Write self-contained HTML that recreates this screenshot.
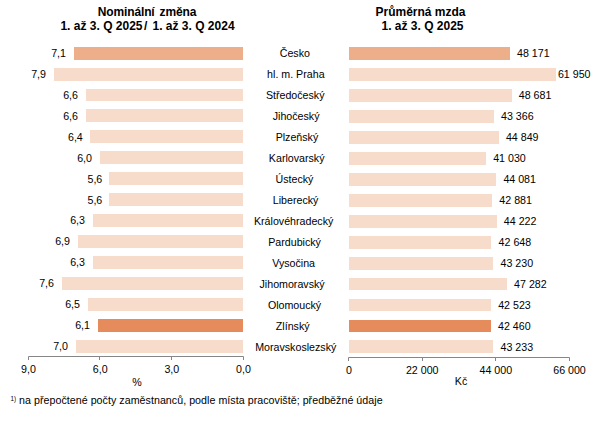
<!DOCTYPE html>
<html><head><meta charset="utf-8"><style>
html,body{margin:0;padding:0;background:#fff;width:594px;height:428px;overflow:hidden}
svg{display:block}
text{font-family:"Liberation Sans",sans-serif;font-size:10.67px;fill:#000}
text.b{font-weight:bold;font-size:12px}
</style></head><body>
<svg width="594" height="428" viewBox="0 0 594 428">
<rect x="74" y="47" width="169" height="13" fill="#EDAE8A"/>
<rect x="349" y="47" width="161" height="13" fill="#EDAE8A"/>
<text x="66.00" y="57" text-anchor="end">7,1</text>
<text x="294.80" y="57" text-anchor="middle">Česko</text>
<text x="517.04" y="57">48 171</text>
<rect x="54" y="68" width="189" height="13" fill="#F7DCCB"/>
<rect x="349" y="68" width="207" height="13" fill="#F7DCCB"/>
<text x="46.00" y="78" text-anchor="end">7,9</text>
<text x="295.85" y="78" text-anchor="middle">hl. m. Praha</text>
<text x="590.5" y="78" text-anchor="end">61 950</text>
<rect x="86" y="89" width="157" height="12" fill="#F7DCCB"/>
<rect x="349" y="89" width="163" height="13" fill="#F7DCCB"/>
<text x="78.00" y="99" text-anchor="end">6,6</text>
<text x="295.20" y="99" text-anchor="middle">Středočeský</text>
<text x="518.74" y="99">48 681</text>
<rect x="86" y="109" width="157" height="13" fill="#F7DCCB"/>
<rect x="349" y="110" width="145" height="13" fill="#F7DCCB"/>
<text x="78.00" y="120" text-anchor="end">6,6</text>
<text x="296.10" y="120" text-anchor="middle">Jihočeský</text>
<text x="500.99" y="120">43 366</text>
<rect x="90" y="130" width="153" height="13" fill="#F7DCCB"/>
<rect x="349" y="131" width="150" height="13" fill="#F7DCCB"/>
<text x="82.80" y="141" text-anchor="end">6,4</text>
<text x="296.95" y="141" text-anchor="middle">Plzeňský</text>
<text x="505.95" y="141">44 849</text>
<rect x="100" y="151" width="143" height="13" fill="#F7DCCB"/>
<rect x="349" y="152" width="137" height="13" fill="#F7DCCB"/>
<text x="92.00" y="162" text-anchor="end">6,0</text>
<text x="296.70" y="162" text-anchor="middle">Karlovarský</text>
<text x="493.19" y="162">41 030</text>
<rect x="109" y="172" width="134" height="13" fill="#F7DCCB"/>
<rect x="349" y="173" width="147" height="13" fill="#F7DCCB"/>
<text x="102.30" y="183" text-anchor="end">5,6</text>
<text x="294.50" y="183" text-anchor="middle">Ústecký</text>
<text x="503.38" y="183">44 081</text>
<rect x="109" y="193" width="134" height="13" fill="#F7DCCB"/>
<rect x="349" y="194" width="143" height="13" fill="#F7DCCB"/>
<text x="102.30" y="204" text-anchor="end">5,6</text>
<text x="295.60" y="204" text-anchor="middle">Liberecký</text>
<text x="499.37" y="204">42 881</text>
<rect x="93" y="214" width="150" height="13" fill="#F7DCCB"/>
<rect x="349" y="215" width="148" height="13" fill="#F7DCCB"/>
<text x="85.00" y="224" text-anchor="end">6,3</text>
<text x="293.65" y="225" text-anchor="middle">Královéhradecký</text>
<text x="503.85" y="225">44 222</text>
<rect x="78" y="235" width="165" height="13" fill="#F7DCCB"/>
<rect x="349" y="236" width="142" height="13" fill="#F7DCCB"/>
<text x="70.00" y="245" text-anchor="end">6,9</text>
<text x="294.60" y="246" text-anchor="middle">Pardubický</text>
<text x="498.59" y="246">42 648</text>
<rect x="93" y="256" width="150" height="13" fill="#F7DCCB"/>
<rect x="349" y="257" width="144" height="13" fill="#F7DCCB"/>
<text x="85.00" y="266" text-anchor="end">6,3</text>
<text x="293.60" y="267" text-anchor="middle">Vysočina</text>
<text x="500.54" y="267">43 230</text>
<rect x="62" y="277" width="181" height="13" fill="#F7DCCB"/>
<rect x="349" y="278" width="158" height="12" fill="#F7DCCB"/>
<text x="54.00" y="287" text-anchor="end">7,6</text>
<text x="292.10" y="288" text-anchor="middle">Jihomoravský</text>
<text x="514.07" y="288">47 282</text>
<rect x="88" y="298" width="155" height="13" fill="#F7DCCB"/>
<rect x="349" y="299" width="142" height="12" fill="#F7DCCB"/>
<text x="80.00" y="308" text-anchor="end">6,5</text>
<text x="294.55" y="309" text-anchor="middle">Olomoucký</text>
<text x="498.18" y="309">42 523</text>
<rect x="98" y="319" width="145" height="13" fill="#E58B5C"/>
<rect x="349" y="320" width="142" height="12" fill="#E58B5C"/>
<text x="90.00" y="329" text-anchor="end">6,1</text>
<text x="292.70" y="330" text-anchor="middle">Zlínský</text>
<text x="497.97" y="330">42 460</text>
<rect x="76" y="340" width="167" height="13" fill="#F7DCCB"/>
<rect x="349" y="340" width="144" height="13" fill="#F7DCCB"/>
<text x="68.00" y="350" text-anchor="end">7,0</text>
<text x="295.75" y="351" text-anchor="middle">Moravskoslezský</text>
<text x="500.55" y="351">43 233</text>
<path d="M28.5 360V356.5H243.5V360M99.5 356.5V360M171.5 356.5V360" fill="none" stroke="#868686" stroke-width="1"/>
<path d="M348.5 361V357.5H569.5V361M422.5 357.5V361M495.5 357.5V361" fill="none" stroke="#868686" stroke-width="1"/>
<text x="28.5" y="373" text-anchor="middle">9,0</text>
<text x="100.2" y="373" text-anchor="middle">6,0</text>
<text x="171.8" y="373" text-anchor="middle">3,0</text>
<text x="243.5" y="373" text-anchor="middle">0,0</text>
<text x="348.9" y="374" text-anchor="middle">0</text>
<text x="422.2" y="374" text-anchor="middle">22 000</text>
<text x="495.8" y="374" text-anchor="middle">44 000</text>
<text x="569.5" y="374" text-anchor="middle">66 000</text>
<text x="137" y="386" text-anchor="middle">%</text>
<text x="461" y="385" text-anchor="middle">Kč</text>
<text class="b" x="147" y="16" text-anchor="middle" style="letter-spacing:-0.12px;word-spacing:1.8px">Nominální změna</text>
<text class="b" x="147.5" y="30" text-anchor="middle">1. až 3. Q 2025 <tspan dx="-1.8">/</tspan><tspan dx="1.8"> 1. až 3. Q 2024</tspan></text>
<text class="b" x="420.5" y="16" text-anchor="middle">Průměrná mzda</text>
<text class="b" x="422.5" y="30" text-anchor="middle">1. až 3. Q 2025</text>
<text x="10.5" y="401" style="font-size:6.3px">1)</text>
<text x="19" y="404" style="letter-spacing:0.04px">na přepočtené počty zaměstnanců, podle místa pracoviště; předběžné údaje</text>
</svg>
</body></html>
